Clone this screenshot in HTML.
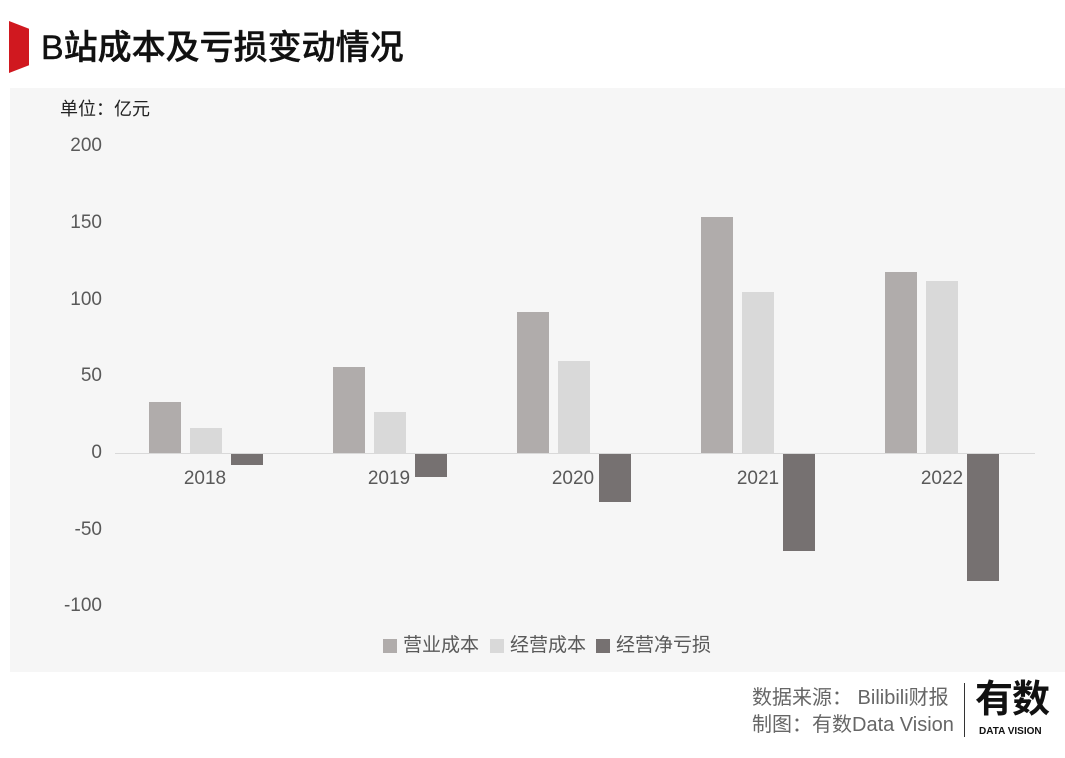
<!DOCTYPE html>
<html><head><meta charset="utf-8"><style>
body{margin:0;width:1065px;height:758px;background:#fff;position:relative;overflow:hidden;font-family:"Liberation Sans","Noto Sans CJK SC",sans-serif}
.a{position:absolute}
.t{color:#595959;font-size:19px}
.yl{position:absolute;width:60px;text-align:right;left:42px;color:#595959;font-size:19px;line-height:20px}
.xl{position:absolute;width:80px;text-align:center;color:#595959;font-size:19px;line-height:20px;top:469px}
</style></head><body>
<div class="a" style="left:9px;top:21px;width:20px;height:52px;background:#d0181f;clip-path:polygon(0 0,100% 15%,100% 85%,0 100%)"></div>
<div class="a" style="left:41px;top:25px;font-size:34px;color:#111;line-height:46px;font-weight:500;-webkit-text-stroke:0.4px #111">B站成本及亏损变动情况</div>
<div class="a" style="left:10px;top:88px;width:1055px;height:584px;background:#f6f6f6"></div>
<div class="a" style="left:60px;top:97px;font-size:18px;color:#222;line-height:24px">单位：亿元</div>
<div class="yl" style="top:136px">200</div>
<div class="yl" style="top:213px">150</div>
<div class="yl" style="top:290px">100</div>
<div class="yl" style="top:366px">50</div>
<div class="yl" style="top:443px">0</div>
<div class="yl" style="top:520px">-50</div>
<div class="yl" style="top:596px">-100</div>
<div class="a" style="left:115px;top:453px;width:920px;height:1px;background:#d9d9d9"></div>
<div id="bars"></div>
<div class="xl" style="left:165px">2018</div>
<div class="xl" style="left:349px">2019</div>
<div class="xl" style="left:533px">2020</div>
<div class="xl" style="left:718px">2021</div>
<div class="xl" style="left:902px">2022</div>
<div class="a" style="left:383px;top:639px;width:14px;height:14px;background:#b0acab"></div>
<div class="a t" style="left:403px;top:635px;line-height:22px">营业成本</div>
<div class="a" style="left:490px;top:639px;width:14px;height:14px;background:#d9d9d9"></div>
<div class="a t" style="left:510px;top:635px;line-height:22px">经营成本</div>
<div class="a" style="left:596px;top:639px;width:14px;height:14px;background:#767171"></div>
<div class="a t" style="left:616px;top:635px;line-height:22px">经营净亏损</div>
<div class="a" style="left:752px;top:685px;font-size:20px;color:#666;line-height:27px">数据来源： Bilibili财报<br>制图：有数Data Vision</div>
<div class="a" style="left:964px;top:683px;width:1px;height:54px;background:#333"></div>
<div class="a" style="left:975px;top:678px;font-size:38px;font-weight:bold;color:#111;line-height:44px;letter-spacing:-1px">有数</div>
<div class="a" style="left:979px;top:726px;font-size:10px;font-weight:bold;color:#111">DATA VISION</div>
<script>
var d=[[33,16,-7],[56,27,-15],[92,60,-31],[154,105,-63.5],[118,112,-83],],c=["#b0acab","#d9d9d9","#767171"],h="";
for(var i=0;i<5;i++)for(var j=0;j<3;j++){var x=149+i*184+j*41,v=d[i][j],p=Math.abs(v)*1.535,t=v>0?453-p:454;
h+='<div class="a" style="left:'+x+'px;top:'+t+'px;width:32px;height:'+p+'px;background:'+c[j]+'"></div>';}
document.getElementById("bars").innerHTML=h;
</script>
</body></html>
